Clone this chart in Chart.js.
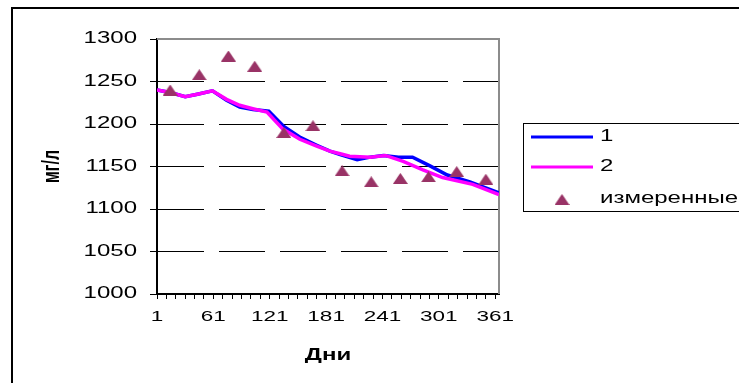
<!DOCTYPE html>
<html><head><meta charset="utf-8">
<script src="https://cdn.jsdelivr.net/npm/chart.js@4.4.0/dist/chart.umd.min.js"></script>
<style>html,body{margin:0;padding:0;background:#fff;overflow:hidden}#wrap{position:relative;width:739px;height:383px}</style>
</head><body><div id="wrap"><canvas id="c" width="739" height="383"></canvas></div>
<script>
const seriesNames = ['1', '2', 'измеренные'];
const line1Days   = [1, 15, 31, 44, 60, 75, 89, 103, 120, 136, 154, 171, 185, 196, 214, 228, 242, 258, 273, 291, 310, 334, 365];
const line1Values = [1240, 1237, 1232, 1235, 1239, 1228, 1220, 1217, 1215, 1197, 1184, 1175, 1168, 1164, 1158, 1161, 1163, 1161, 1161, 1151, 1140, 1132, 1119];
const line2Days   = [1, 15, 31, 44, 60, 75, 89, 103, 118, 135, 153, 171, 185, 196, 206, 228, 244, 263, 284, 305, 337, 365];
const line2Values = [1240, 1237, 1232, 1235, 1239, 1229, 1222, 1218, 1214, 1194, 1182, 1174, 1168, 1165, 1162, 1161, 1163, 1156, 1146, 1137, 1129, 1117];
const measuredDays   = [15, 46, 77, 105, 136, 167, 198, 229, 260, 290, 320, 351];
const measuredValues = [1240, 1258, 1280, 1268, 1190, 1198, 1145, 1132, 1136, 1138, 1144, 1135];
const xLabelDays = [1, 61, 121, 181, 241, 301, 361];
const xTickDays  = [1, 11, 21, 31, 41, 51, 61, 71, 81, 91, 101, 111, 121, 131, 141, 151, 161, 171, 181, 191, 201, 211, 221, 231, 241, 251, 261, 271, 281, 291, 301, 311, 321, 331, 341, 351, 361];
const yTickValues = [1000, 1050, 1100, 1150, 1200, 1250, 1300];
const xTitle = 'Дни';
const yTitle = 'мг/л';

const toXY = (xs, ys) => xs.map((x, i) => ({x: x, y: ys[i]}));
const FONT = '"Liberation Sans", Arial, sans-serif';
const TEXT_STRETCH = 1.5;
const MARK_COLOR = '#993366';

// wide triangle marker (as in the reference), centred on its bounding box
const tri = document.createElement('canvas');
tri.width = 15; tri.height = 11;
(function () {
  const t = tri.getContext('2d');
  t.fillStyle = MARK_COLOR;
  t.beginPath(); t.moveTo(7.5, 0); t.lineTo(15, 11); t.lineTo(0, 11); t.closePath(); t.fill();
})();

const framePlugin = {
  id: 'frame',
  beforeInit(chart) {
    // the reference's text is horizontally stretched; widen glyphs in device space around each anchor
    const ctx = chart.ctx;
    const orig = ctx.fillText.bind(ctx);
    ctx.fillText = function (t, x, y, maxW) {
      const m = this.getTransform();
      const p = m.transformPoint(new DOMPoint(x, y));
      this.save();
      this.setTransform(new DOMMatrix().translate(p.x, p.y).scale(TEXT_STRETCH, 1).translate(-p.x, -p.y).multiply(m));
      orig(t, x, y);
      this.restore();
    };
  },
  beforeDraw(chart) {
    const ctx = chart.ctx;
    ctx.save();
    ctx.fillStyle = '#fff';
    ctx.fillRect(0, 0, chart.width, chart.height);
    ctx.strokeStyle = '#000';
    ctx.lineWidth = 2;
    ctx.beginPath();
    ctx.moveTo(12, 383); ctx.lineTo(12, 8); ctx.lineTo(739, 8);
    ctx.stroke();
    ctx.restore();
  },
  beforeDatasetsDraw(chart) {
    const {ctx, chartArea: a} = chart;
    ctx.save();
    ctx.strokeStyle = '#8c8c8c';
    ctx.lineWidth = 2;
    ctx.beginPath();
    ctx.moveTo(a.left, a.top); ctx.lineTo(a.right, a.top); ctx.lineTo(a.right, a.bottom);
    ctx.stroke();
    ctx.restore();
  },
  afterDraw(chart) {
    const ctx = chart.ctx;
    ctx.save();
    ctx.strokeStyle = '#000';
    ctx.lineWidth = 1;
    ctx.strokeRect(523.5, 123.5, 240, 88);
    const rows = [137, 167, 199];
    ctx.font = '16px ' + FONT;
    ctx.textBaseline = 'middle';
    ctx.textAlign = 'left';
    chart.data.datasets.forEach((ds, i) => {
      const y = rows[i];
      if (ds.showLine === false) {
        ctx.drawImage(tri, 562 - 7.5, y - 5);
      } else {
        ctx.strokeStyle = ds.borderColor;
        ctx.lineWidth = 3;
        ctx.beginPath(); ctx.moveTo(531, y); ctx.lineTo(593, y); ctx.stroke();
      }
      ctx.fillStyle = '#000';
      ctx.fillText(ds.label, 600, y);
    });
    ctx.restore();
  }
};

new Chart(document.getElementById('c'), {
  type: 'line',
  data: {
    datasets: [
      {label: seriesNames[0], data: toXY(line1Days, line1Values), borderColor: '#0000ff', backgroundColor: '#0000ff', borderWidth: 3.5, pointRadius: 0, tension: 0, order: 2},
      {label: seriesNames[1], data: toXY(line2Days, line2Values), borderColor: '#ff00ff', backgroundColor: '#ff00ff', borderWidth: 3.5, pointRadius: 0, tension: 0, order: 1},
      {label: seriesNames[2], data: toXY(measuredDays, measuredValues), showLine: false, pointStyle: tri, pointRadius: 8, pointBorderWidth: 0, backgroundColor: MARK_COLOR, borderColor: MARK_COLOR, order: 0}
    ]
  },
  options: {
    responsive: false,
    devicePixelRatio: 1,
    animation: false,
    layout: {padding: {left: 0, top: 39, right: 240, bottom: 0}},
    plugins: {legend: {display: false}, tooltip: {enabled: false}},
    scales: {
      x: {
        type: 'linear', min: 1, max: 365,
        afterFit(s) { s.height = 89; },
        afterBuildTicks(s) { s.ticks = xTickDays.map(v => ({value: v})); },
        grid: {drawOnChartArea: false, drawTicks: true, tickLength: 5, color: '#000', tickColor: '#000', lineWidth: 1},
        border: {display: true, color: '#000', width: 2},
        ticks: {autoSkip: false, maxRotation: 0, padding: 9, color: '#000', font: {family: FONT, size: 15},
                callback: v => xLabelDays.includes(v) ? String(v) : ''},
        title: {display: true, text: xTitle, color: '#000', font: {family: FONT, size: 16, weight: 'bold'}, padding: {top: 0, bottom: 18}}
      },
      y: {
        type: 'linear', min: 1000, max: 1300,
        afterFit(s) { s.width = 157; },
        afterBuildTicks(s) { s.ticks = yTickValues.map(v => ({value: v})); },
        grid: {drawTicks: true, tickLength: 7, lineWidth: 1, tickColor: '#000', tickBorderDash: [],
               color: c => (c.tick && (c.tick.value === 1000 || c.tick.value === 1300)) ? 'rgba(0,0,0,0)' : '#000'},
        border: {display: true, color: '#000', width: 2, dash: [46, 15]},
        ticks: {padding: 13, color: '#000', font: {family: FONT, size: 16}, callback: v => String(v)},
        title: {display: true, text: yTitle, color: '#000', font: {family: FONT, size: 16, weight: 'bold'}, padding: {top: 43, bottom: 0}}
      }
    }
  },
  plugins: [framePlugin]
});
</script></body></html>
